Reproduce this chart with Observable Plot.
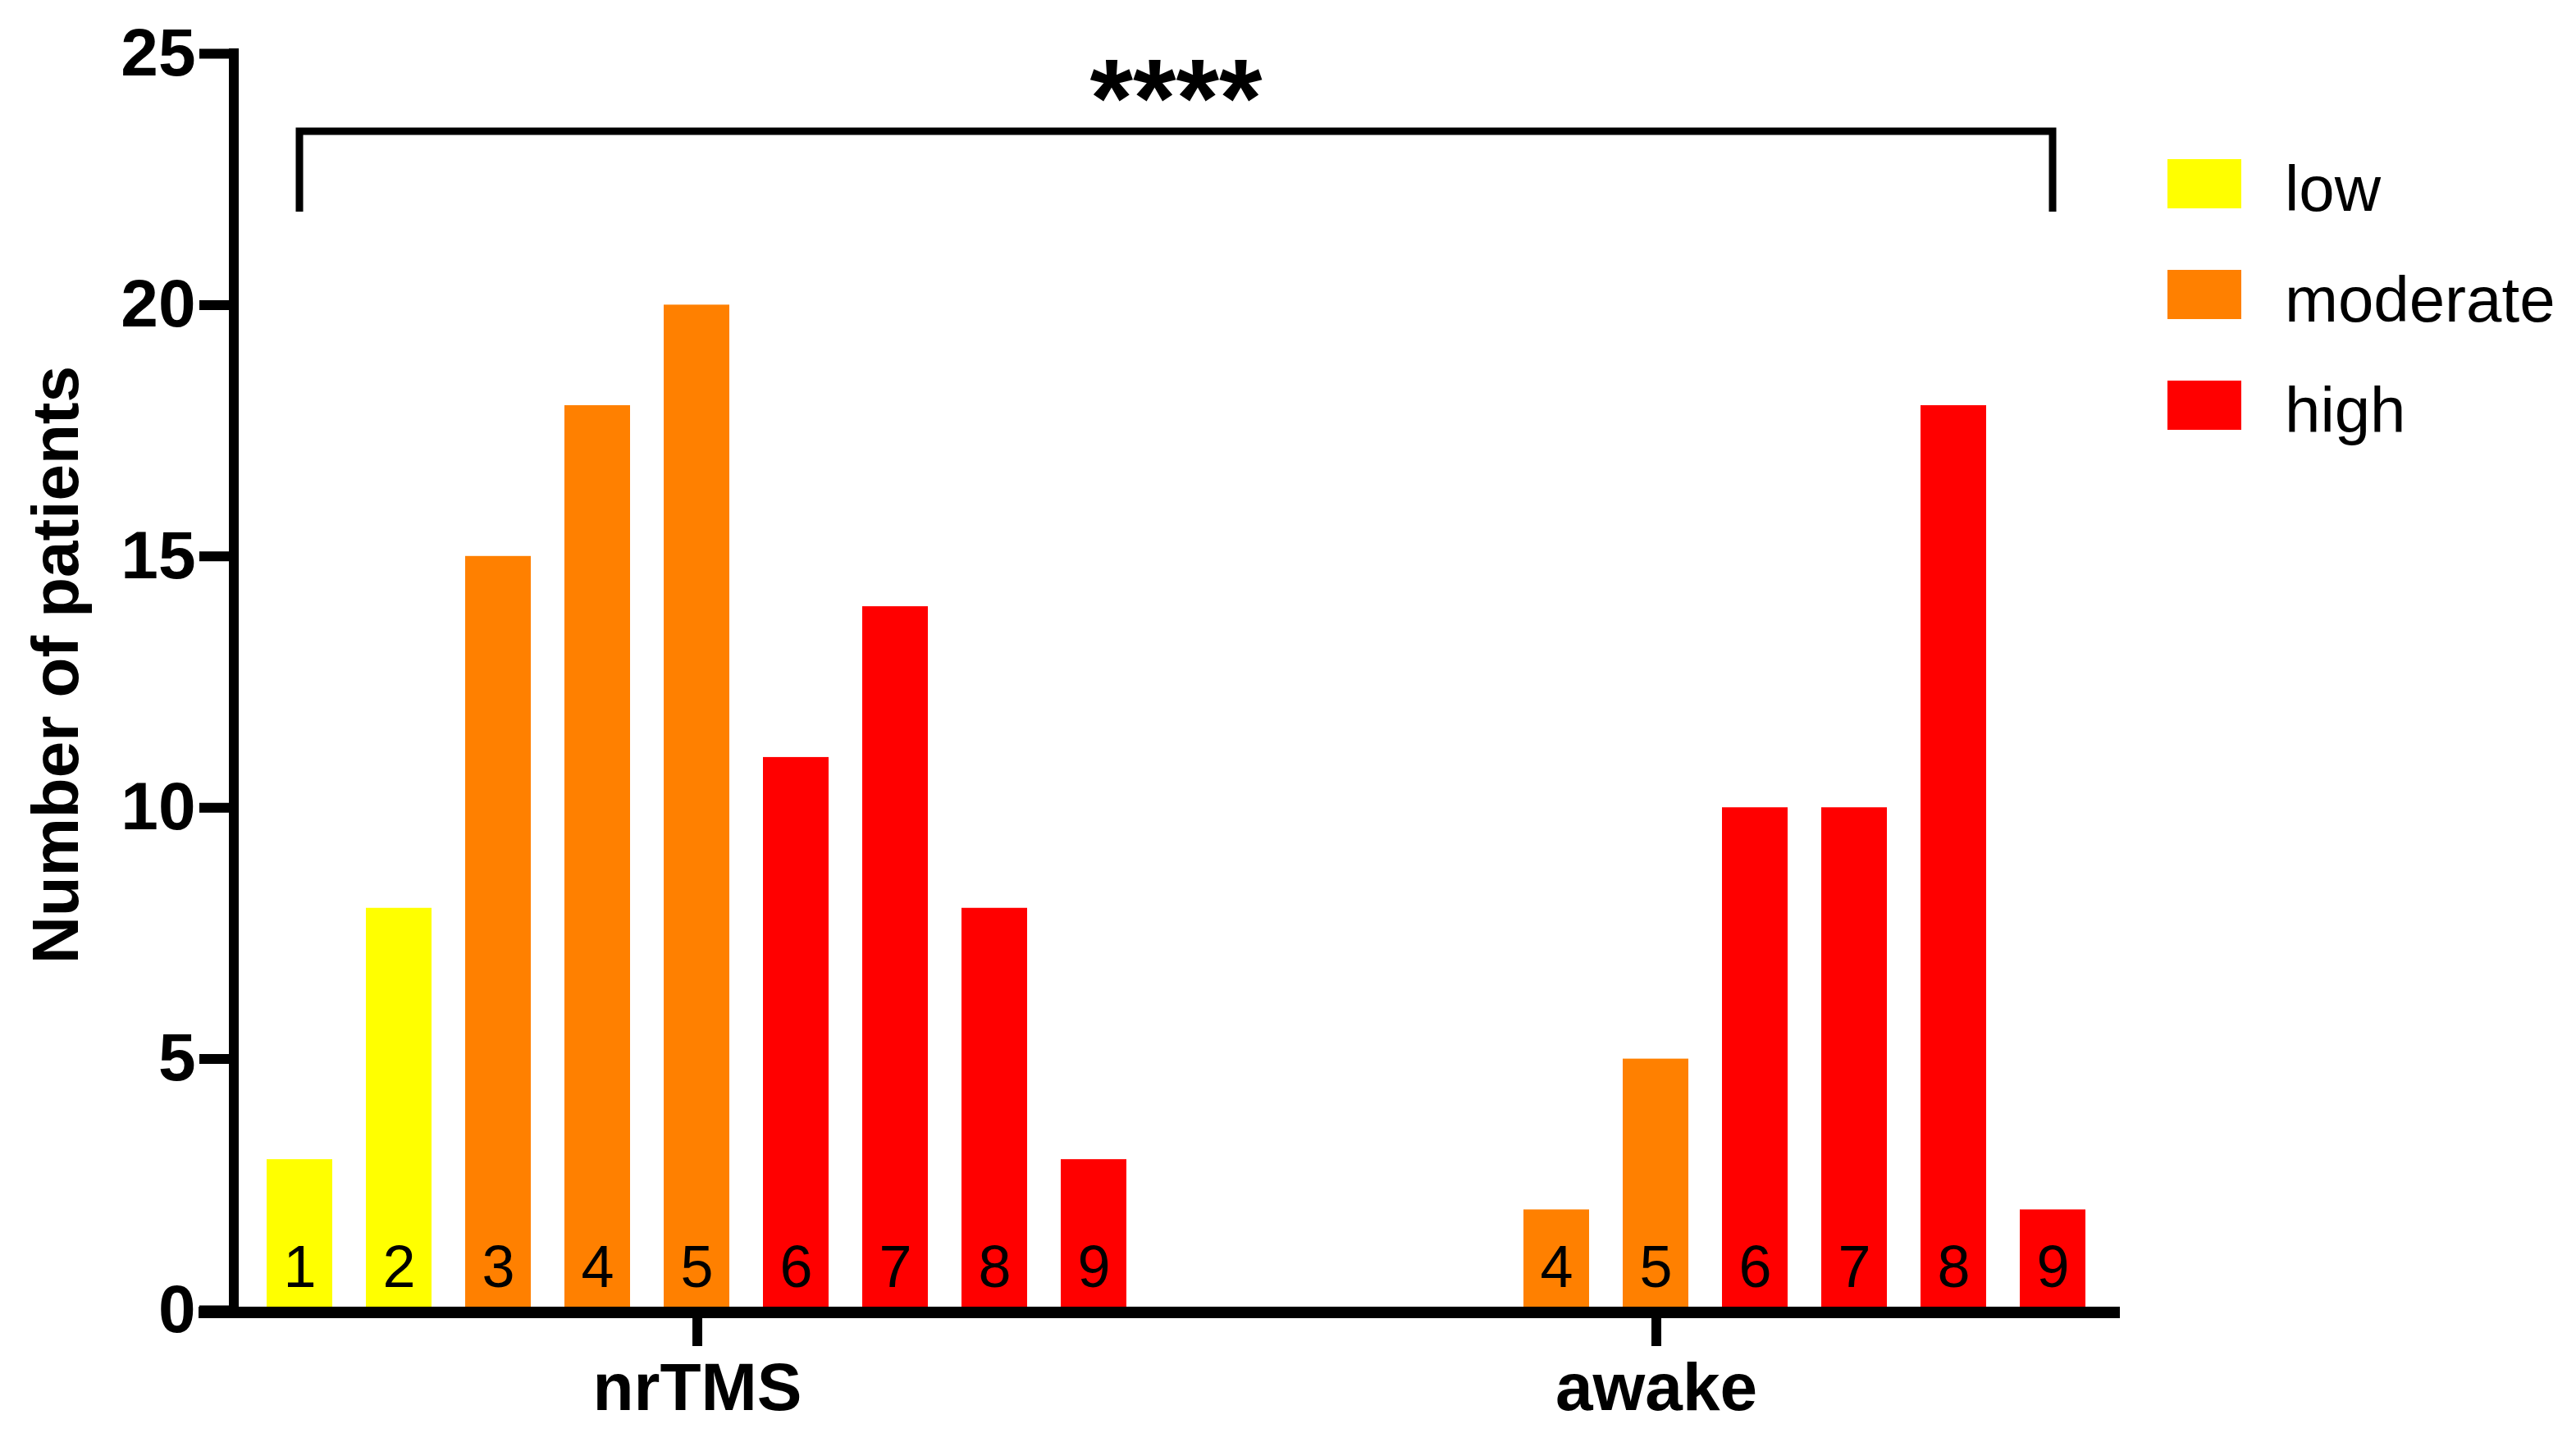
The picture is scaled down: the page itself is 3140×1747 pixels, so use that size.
<!DOCTYPE html>
<html><head><meta charset="utf-8">
<script src="https://cdn.jsdelivr.net/npm/d3@7"></script>
<script src="https://cdn.jsdelivr.net/npm/@observablehq/plot@0.6"></script>
<style>
html,body{margin:0;padding:0;background:#fff;}
#chart svg{display:block;}
</style></head><body><div id="chart"></div>
<script>
const groups = ["nrTMS", "awake"];
const scores = ["1","2","3","4","5","6","7","8","9"];
const nrTMSCounts = [3, 8, 15, 18, 20, 11, 14, 8, 3];
const awakeCounts = [0, 0, 0, 2, 5, 10, 10, 18, 2];
const scoreLevels = ["low","low","moderate","moderate","moderate","high","high","high","high"];
const levels = ["low","moderate","high"];
const levelColors = ["#FFFF00","#FF8000","#FF0000"];
const yTicks = [0, 5, 10, 15, 20, 25];
const yLabel = "Number of patients";
const significance = {from: ["nrTMS", "1"], to: ["awake", "9"], y: 23.45, yEnd: 21.85, label: "****"};

const rows = [];
groups.forEach((g, gi) => {
  const counts = gi === 0 ? nrTMSCounts : awakeCounts;
  scores.forEach((s, i) => {
    if (counts[i] > 0) rows.push({group: g, score: s, count: counts[i], level: scoreLevels[i]});
  });
});

const FONT = "'Liberation Sans', Arial, Helvetica, sans-serif";

const plot = Plot.plot({
  width: 3140, height: 1747,
  marginLeft: 283, marginRight: 555.5, marginTop: 65, marginBottom: 150,
  style: {fontFamily: FONT, background: "#fff", color: "#000", overflow: "visible"},
  fx: {domain: groups, paddingInner: 0.0329, paddingOuter: 0, label: null},
  x: {domain: scores, padding: 0.336, axis: null},
  y: {domain: [0, 25], axis: null},
  color: {domain: levels, range: levelColors},
  marks: [
    Plot.barY(rows, {fx: "group", x: "score", y: "count", fill: "level"}),
    Plot.text(rows, {fx: "group", x: "score", y: 0, text: "score", dy: -52, fontSize: 72, fill: "#000"}),
    Plot.axisY({ticks: yTicks, tickSize: 41, tickPadding: 5, strokeWidth: 12, fontSize: 82, fontWeight: "bold", label: null}),
    Plot.axisFx({anchor: "bottom", tickSize: 44, tickPadding: 19, strokeWidth: 12, fontSize: 82, fontWeight: "bold", label: null}),
    Plot.text([{group: groups[0], t: yLabel}], {fx: "group", text: "t", frameAnchor: "left", textAnchor: "middle", lineAnchor: "middle", rotate: -90, dx: -215, dy: -21, fontSize: 80, fontWeight: "bold", fill: "#000"})
  ]
});
document.getElementById("chart").appendChild(plot);

// decorations positioned through the plot's own scales
const svg = d3.select(plot);
const sx = plot.scale("x"), sfx = plot.scale("fx"), sy = plot.scale("y");
const cx = (g, s) => sfx.apply(g) + (sx.apply(s) - sx.range[0]) + sx.bandwidth / 2;
const left = sfx.apply(groups[0]);
const right = sfx.apply(groups[groups.length - 1]) + sfx.bandwidth;
const deco = svg.append("g");

// y-axis line
deco.append("line").attr("x1", left + 1).attr("x2", left + 1)
  .attr("y1", sy.apply(25) - 6).attr("y2", sy.apply(0) + 10)
  .attr("stroke", "#000").attr("stroke-width", 12);
// x-axis line
deco.append("line").attr("x1", left - 42).attr("x2", right)
  .attr("y1", sy.apply(0) + 3).attr("y2", sy.apply(0) + 3)
  .attr("stroke", "#000").attr("stroke-width", 14);

// significance bracket
const bx1 = cx(...significance.from), bx2 = cx(...significance.to);
const by = sy.apply(significance.y), byEnd = sy.apply(significance.yEnd);
deco.append("path")
  .attr("d", `M${bx1},${byEnd}V${by}H${bx2}V${byEnd}`)
  .attr("fill", "none").attr("stroke", "#000").attr("stroke-width", 9);
deco.append("text").attr("x", (bx1 + bx2) / 2).attr("y", by + 6)
  .attr("text-anchor", "middle").attr("font-family", FONT).attr("font-weight", "bold")
  .attr("font-size", 135).attr("fill", "#000").text(significance.label);

// legend
const lg = deco.append("g");
levels.forEach((lv, i) => {
  lg.append("rect").attr("x", 2642).attr("y", 194 + 135 * i).attr("width", 90).attr("height", 60)
    .attr("fill", levelColors[i]);
  lg.append("text").attr("x", 2785).attr("y", 257 + 135 * i).attr("text-anchor", "start")
    .attr("font-family", FONT).attr("font-size", 78).attr("fill", "#000").text(lv);
});
</script></body></html>
